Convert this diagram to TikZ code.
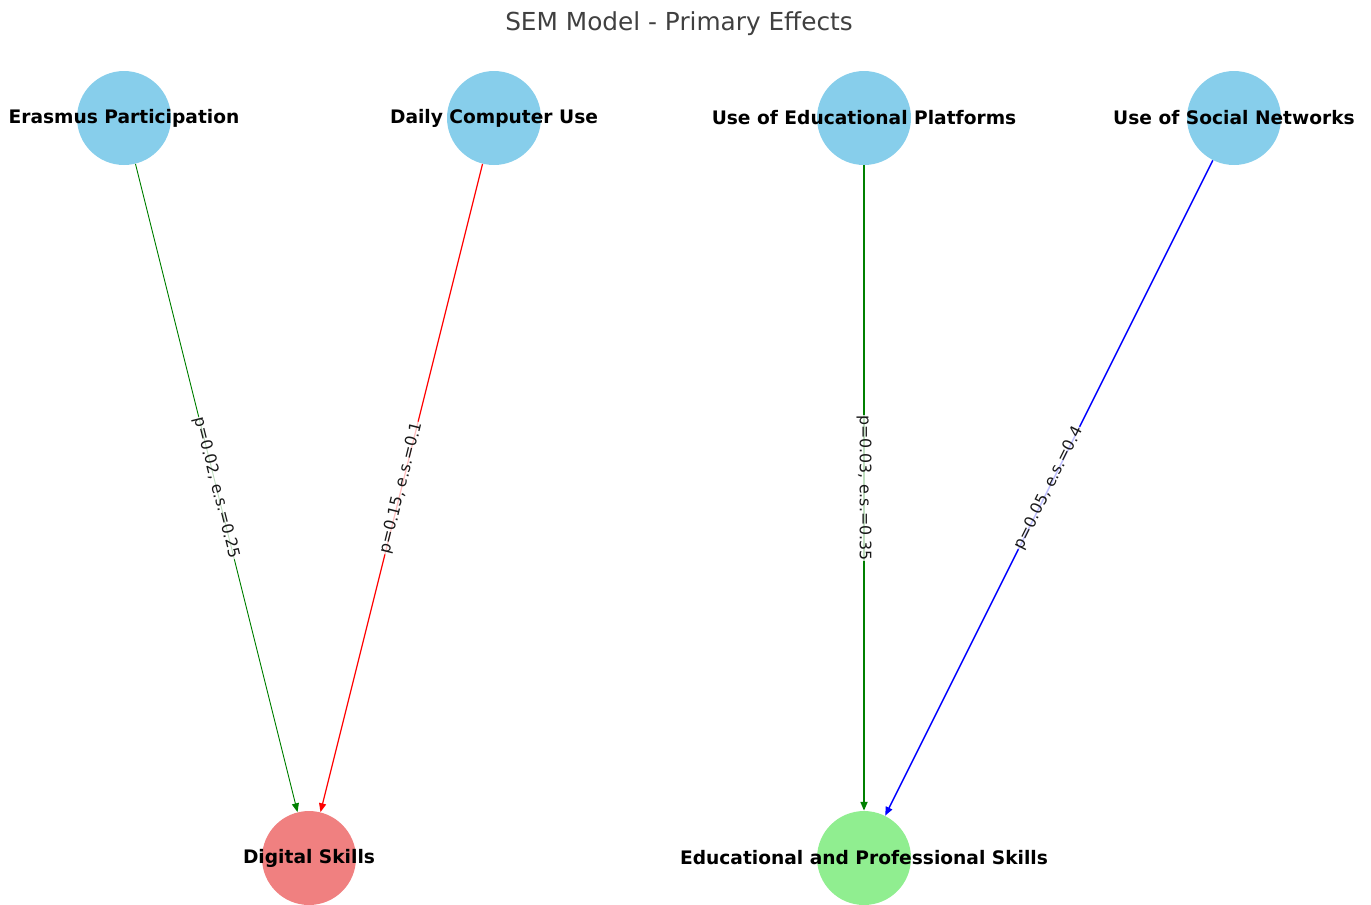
\documentclass[tikz,border=0pt]{standalone}
\usepackage{fontspec}
\setmainfont{DejaVu Sans}
\usetikzlibrary{arrows.meta}
\definecolor{skyblue}{HTML}{87CEEB}
\definecolor{lightcoral}{HTML}{F08080}
\definecolor{lightgreen}{HTML}{90EE90}
\definecolor{pathgreen}{HTML}{008000}
\tikzset{
  latent/.style={circle, minimum size=1.88cm, inner sep=0pt},
  varname/.style={font=\fontsize{10.6}{12}\selectfont\bfseries, text=black},
  path/.style={-{Triangle[length=5pt,width=4pt]}},
  estimate/.style={sloped, fill=white, fill opacity=0.75, text opacity=1,
    text=black!90, inner sep=0.5pt, font=\fontsize{9}{10}\selectfont}
}
\begin{document}
\begin{tikzpicture}[x=0.02cm, y=-0.02cm]
      \clip (0,0) rectangle (1371,904);
      \node[font=\fontsize{14.1}{16}\selectfont, text=black!75] (title) at (679,24) {SEM Model - Primary Effects};
      \draw
        (124,118) node[latent, fill=skyblue, label={[varname]center:Erasmus Participation}] (erasmus){}
        (494,118) node[latent, fill=skyblue, label={[varname]center:Daily Computer Use}] (computer){}
        (864,118) node[latent, fill=skyblue, label={[varname]center:Use of Educational Platforms}] (platforms){}
        (1234,118) node[latent, fill=skyblue, label={[varname]center:Use of Social Networks}] (social){}
        (309,858) node[latent, fill=lightcoral, label={[varname]center:Digital Skills}] (digital){}
        (864,858) node[latent, fill=lightgreen, label={[varname]center:Educational and Professional Skills}] (eduprof){};
      \begin{scope}[path]
        \draw[pathgreen, line width=0.55pt] (erasmus) to node[estimate] {p=0.02, e.s.=0.25} (digital);
        \draw[red, line width=0.7pt] (computer) to node[estimate] {p=0.15, e.s.=0.1} (digital);
        \draw[pathgreen, line width=0.9pt] (platforms) to node[estimate] {p=0.03, e.s.=0.35} (eduprof);
        \draw[blue, line width=0.85pt] (social) to node[estimate] {p=0.05, e.s.=0.4} (eduprof);
      \end{scope}
    \end{tikzpicture}
\end{document}
